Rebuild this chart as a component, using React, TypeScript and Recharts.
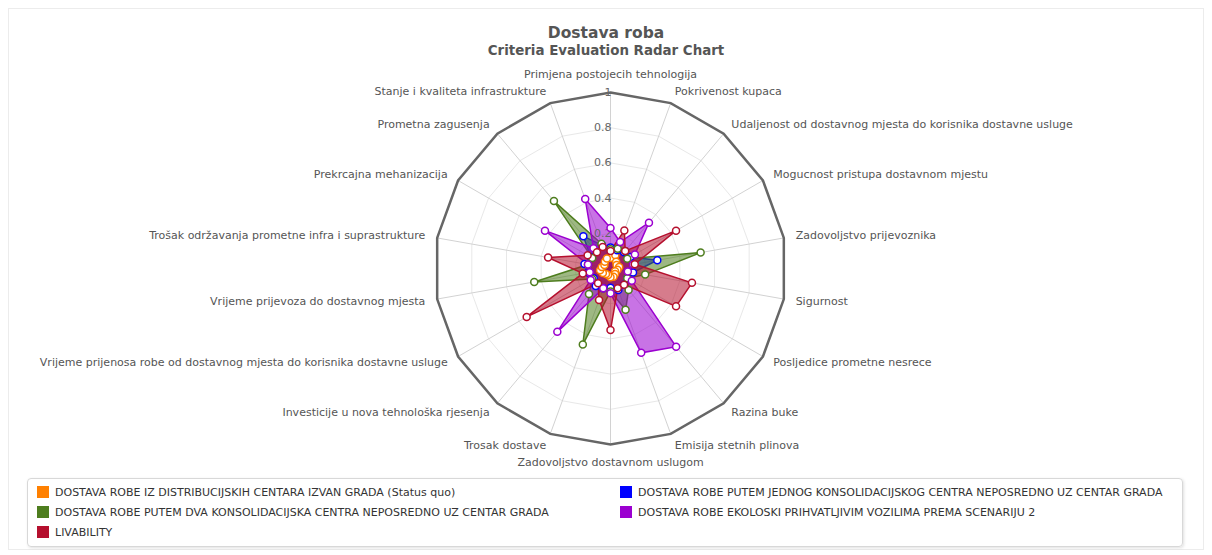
import React from "react"
import { Legend, PolarAngleAxis, PolarGrid, PolarRadiusAxis, Radar, RadarChart } from "recharts"

const criteria = [
  "Primjena postojecih tehnologija",
  "Pokrivenost kupaca",
  "Udaljenost od dostavnog mjesta do korisnika dostavne usluge",
  "Mogucnost pristupa dostavnom mjestu",
  "Zadovoljstvo prijevoznika",
  "Sigurnost",
  "Posljedice prometne nesrece",
  "Razina buke",
  "Emisija stetnih plinova",
  "Zadovoljstvo dostavnom uslugom",
  "Trosak dostave",
  "Investicije u nova tehnološka rjesenja",
  "Vrijeme prijenosa robe od dostavnog mjesta do korisnika dostavne usluge",
  "Vrijeme prijevoza do dostavnog mjesta",
  "Trošak održavanja prometne infra i suprastrukture",
  "Prekrcajna mehanizacija",
  "Prometna zagusenja",
  "Stanje i kvaliteta infrastrukture",
]

const statusQuo = [0.06, 0.08, 0.05, 0.04, 0.05, 0.04, 0.03, 0.04, 0.05, 0.05, 0.04, 0.04, 0.05, 0.06, 0.05, 0.04, 0.05, 0.06]
const jedanCentar = [0.12, 0.11, 0.12, 0.13, 0.27, 0.13, 0.11, 0.12, 0.13, 0.11, 0.12, 0.13, 0.11, 0.13, 0.15, 0.13, 0.24, 0.14]
const dvaCentra = [0.11, 0.12, 0.13, 0.11, 0.52, 0.2, 0.11, 0.16, 0.25, 0.13, 0.46, 0.19, 0.12, 0.44, 0.13, 0.12, 0.5, 0.15]
const ekoloski = [0.23, 0.16, 0.34, 0.16, 0.13, 0.1, 0.14, 0.58, 0.51, 0.14, 0.12, 0.47, 0.13, 0.12, 0.13, 0.43, 0.15, 0.42]
const livability = [0.1, 0.23, 0.13, 0.43, 0.14, 0.47, 0.43, 0.12, 0.12, 0.35, 0.19, 0.11, 0.55, 0.16, 0.36, 0.15, 0.12, 0.13]

const radiusTicks = [0, 0.2, 0.4, 0.6, 0.8, 1]

const series = [
  { key: "statusQuo", name: "DOSTAVA ROBE IZ DISTRIBUCIJSKIH CENTARA IZVAN GRADA (Status quo)", color: "#FF8000", values: statusQuo },
  { key: "jedanCentar", name: "DOSTAVA ROBE PUTEM JEDNOG KONSOLIDACIJSKOG CENTRA NEPOSREDNO UZ CENTAR GRADA", color: "#0000FF", values: jedanCentar },
  { key: "dvaCentra", name: "DOSTAVA ROBE PUTEM DVA KONSOLIDACIJSKA CENTRA NEPOSREDNO UZ CENTAR GRADA", color: "#4E7D1E", values: dvaCentra },
  { key: "ekoloski", name: "DOSTAVA ROBE EKOLOSKI PRIHVATLJIVIM VOZILIMA PREMA SCENARIJU 2", color: "#9B00D0", values: ekoloski },
  { key: "livability", name: "LIVABILITY", color: "#B5102E", values: livability },
]

const data = criteria.map((c, i) => {
  const row: any = { criterion: c }
  series.forEach((s) => (row[s.key] = s.values[i]))
  return row
})

const W = 1194
const H = 540
const CX = 601.5
const CY = 259.5
const R = 176
const font = "'DejaVu Sans', Verdana, sans-serif"

function AngleTick(props: any) {
  const { x, y, payload } = props
  const cx = props.cx ?? CX
  const cy = props.cy ?? CY
  const dx = x - cx
  const dy = y - cy
  const len = Math.hypot(dx, dy) || 1
  const ux = dx / len
  const uy = dy / len
  let tx = cx + ux * (R + 12)
  let ty = cy + uy * (R + 12)
  const anchor = ux > 0.01 ? "start" : ux < -0.01 ? "end" : "middle"
  if (anchor === "middle") ty += uy * 6
  return (
    <text x={tx} y={ty} textAnchor={anchor} dominantBaseline="central" fontSize={11} fill="#555" fontFamily={font}>
      {payload.value}
    </text>
  )
}

function RadiusTick(props: any) {
  const { x, y, payload } = props
  if (payload.value === 0) return null
  return (
    <text x={x + 1} y={y} textAnchor="end" dominantBaseline="central" fontSize={11} fill="#666" fontFamily={font}>
      {payload.value}
    </text>
  )
}

function LegendBox() {
  return (
    <div
      style={{
        border: "1px solid #d8d8d8",
        borderRadius: 4,
        boxShadow: "1px 1px 3px rgba(0,0,0,0.12)",
        padding: "6px 9px",
        display: "grid",
        gridTemplateColumns: "583px 1fr",
        rowGap: 5,
        fontFamily: font,
        fontSize: 11,
        color: "#333",
        height: 55,
      }}
    >
      {series.map((s) => (
        <div key={s.key} style={{ display: "flex", alignItems: "center", height: 14, whiteSpace: "nowrap" }}>
          <span style={{ width: 12, height: 12, background: s.color, marginRight: 6, display: "inline-block", flex: "none" }} />
          {s.name}
        </div>
      ))}
    </div>
  )
}

export default function App() {
  return (
    <div style={{ position: "relative", width: W, height: H, border: "1px solid #ececec", background: "#fff" }}>
      <div style={{ position: "absolute", top: 15, width: "100%", textAlign: "center", fontFamily: font, fontWeight: "bold", fontSize: 15.5, color: "#555" }}>
        Dostava roba
      </div>
      <div style={{ position: "absolute", top: 34, width: "100%", textAlign: "center", fontFamily: font, fontWeight: "bold", fontSize: 13.4, color: "#555" }}>
        Criteria Evaluation Radar Chart
      </div>
      <RadarChart width={W} height={H} data={data} cx={CX} cy={CY} outerRadius={R} margin={{ top: 0, right: 0, bottom: 0, left: 0 }}>
        <PolarGrid gridType="polygon" polarRadius={[R * 0.2, R * 0.4, R * 0.6, R * 0.8]} stroke="#e8e8e8" radialLines={false} />
        <PolarGrid gridType="polygon" polarRadius={[R]} stroke="#d2d2d2" />
        <PolarGrid gridType="polygon" polarRadius={[R]} stroke="#666" strokeWidth={2.5} radialLines={false} />
        <PolarAngleAxis dataKey="criterion" tick={<AngleTick />} axisLine={false} tickLine={false} />
        <PolarRadiusAxis angle={90} domain={[0, 1]} ticks={radiusTicks as any} tick={<RadiusTick />} axisLine={false} tickLine={false} />
        {series.map((s) => (
          <Radar
            key={s.key}
            name={s.name}
            dataKey={s.key}
            stroke={s.color}
            strokeWidth={1.5}
            fill={s.color}
            fillOpacity={0.55}
            dot={{ r: 3.5, fill: "#fff", stroke: s.color, strokeWidth: 1.5, fillOpacity: 1 }}
            isAnimationActive={false}
          />
        ))}
        <Legend content={<LegendBox />} wrapperStyle={{ position: "absolute", left: 18, top: 469, width: 1156 }} />
      </RadarChart>
    </div>
  )
}
